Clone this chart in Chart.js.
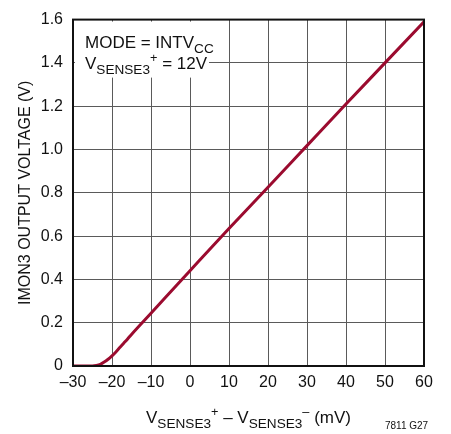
<!DOCTYPE html>
<html>
<head>
<meta charset="utf-8">
<script src="https://cdn.jsdelivr.net/npm/chart.js@4"></script>
<style>
  html, body { margin: 0; padding: 0; background: #fff; }
  #wrap { width: 451px; height: 434px; }
</style>
</head>
<body>
<div id="wrap"><canvas id="myChart" width="451" height="434"></canvas></div>
<script>
// sense voltage difference (mV) and IMON3 output (V)
var senseMv = [-30, -27, -25, -24, -23, -22, -21, -20, -19, -18, -17, -16, -15, -10, 0, 10, 20, 30, 40, 50, 60];
var imonV   = [0, 0, 0.0005, 0.003, 0.008, 0.018, 0.031, 0.047, 0.065, 0.085, 0.105, 0.125, 0.146, 0.244, 0.44, 0.635, 0.826, 1.018, 1.21, 1.4, 1.59];
var xTicks = [-30, -20, -10, 0, 10, 20, 30, 40, 50, 60];
var yTicks = [0, 0.2, 0.4, 0.6, 0.8, 1.0, 1.2, 1.4, 1.6];

var FONT = '"Liberation Sans Narrow", "Liberation Sans", Arial, sans-serif';
var lineColor = '#9b0b2f';
var gridColor = '#5a5a5a';

// draw text pieces with sub/superscripts, left to right
function drawRich(ctx, parts, x, y, size) {
    ctx.textBaseline = 'alphabetic';
    ctx.textAlign = 'left';
    parts.forEach(p => {
        var s = size, dy = 0;
        if (p.sub) { s = size * 0.8; dy = size * 0.3; }
        if (p.sup) { s = size * 0.75; dy = -size * 0.4; }
        ctx.font = s + 'px ' + FONT;
        ctx.fillText(p.t, x, y + dy);
        x += ctx.measureText(p.t).width;
    });
    return x;
}
function richWidth(ctx, parts, size) {
    var w = 0;
    parts.forEach(p => {
        var s = p.sub ? size * 0.8 : (p.sup ? size * 0.75 : size);
        ctx.font = s + 'px ' + FONT;
        w += ctx.measureText(p.t).width;
    });
    return w;
}

var extras = {
    id: 'extras',
    afterDatasetsDraw(chart) {
        var ctx = chart.ctx, a = chart.chartArea;
        ctx.save();
        // white label box over the grid
        ctx.fillStyle = '#fff';
        ctx.fillRect(a.left + 2, a.top + 2, 134, 56);
        ctx.fillStyle = '#111';
        drawRich(ctx, [{t: 'MODE = INTV'}, {t: 'CC', sub: true}], a.left + 12, a.top + 28, 17);
        drawRich(ctx, [{t: 'V'}, {t: 'SENSE3', sub: true}, {t: '+', sup: true}, {t: ' = 12V'}], a.left + 12, a.top + 49, 17);
        // frame
        ctx.strokeStyle = '#111';
        ctx.lineWidth = 2;
        ctx.strokeRect(a.left, a.top, a.right - a.left, a.bottom - a.top);
        // x axis title
        var parts = [{t: 'V'}, {t: 'SENSE3', sub: true}, {t: '+', sup: true}, {t: ' \u2013 V'}, {t: 'SENSE3', sub: true}, {t: '\u2013', sup: true}, {t: ' (mV)'}];
        var w = richWidth(ctx, parts, 17);
        drawRich(ctx, parts, (a.left + a.right) / 2 - w / 2, 423, 17);
        ctx.font = '10px ' + FONT;
        ctx.fillText('7811 G27', 385, 429);
        ctx.restore();
    }
};

const data = {
    datasets: [{
        data: senseMv.map((x, i) => ({x: x, y: imonV[i]})),
        borderColor: lineColor,
        borderWidth: 3,
        pointRadius: 0,
        cubicInterpolationMode: 'monotone'
    }]
};

const config = {
    type: 'line',
    data: data,
    options: {
        responsive: false,
        animation: false,
        layout: { padding: { top: 15, right: 27, left: 14, bottom: 0 } },
        plugins: {
            legend: { display: false },
            tooltip: { enabled: false }
        },
        scales: {
            x: {
                type: 'linear',
                min: -30, max: 60,
                afterBuildTicks: s => { s.ticks = xTicks.map(v => ({value: v})); },
                afterFit: s => { s.height = 68; },
                grid: { color: gridColor, lineWidth: 1, drawTicks: false },
                border: { display: false },
                ticks: {
                    color: '#111',
                    padding: 7,
                    font: { family: FONT, size: 16 },
                    callback: v => String(v).replace('-', '\u2013')
                }
            },
            y: {
                min: 0, max: 1.6,
                afterBuildTicks: s => { s.ticks = yTicks.map(v => ({value: v})); },
                afterFit: s => { s.width = 59; },
                grid: { color: gridColor, lineWidth: 1, drawTicks: false },
                border: { display: false },
                title: {
                    display: true,
                    text: 'IMON3 OUTPUT VOLTAGE (V)',
                    color: '#111',
                    padding: 2,
                    font: { family: FONT, size: 16 }
                },
                ticks: {
                    color: '#111',
                    padding: 10,
                    font: { family: FONT, size: 16 },
                    callback: v => v === 0 ? '0' : v.toFixed(1)
                }
            }
        }
    },
    plugins: [extras]
};

var myChart = new Chart(document.getElementById('myChart'), config);
</script>
</body>
</html>
